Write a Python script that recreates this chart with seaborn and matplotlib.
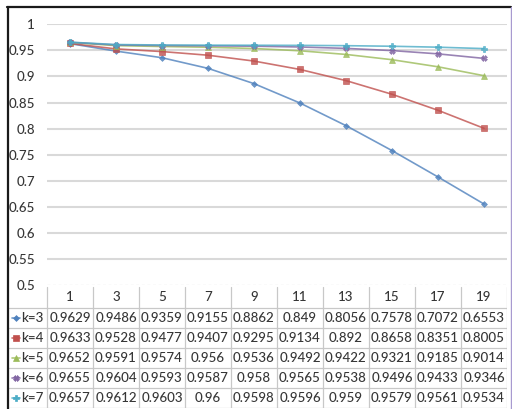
import matplotlib
matplotlib.use("Agg")
import matplotlib.pyplot as plt
from matplotlib.lines import Line2D
import numpy as np
import pandas as pd
import seaborn as sns

# Neighbourhood sizes along the x axis and accuracy per k
neighbors = [1, 3, 5, 7, 9, 11, 13, 15, 17, 19]
series_names = ["k=3", "k=4", "k=5", "k=6", "k=7"]
k3 = [0.9629, 0.9486, 0.9359, 0.9155, 0.8862, 0.849, 0.8056, 0.7578, 0.7072, 0.6553]
k4 = [0.9633, 0.9528, 0.9477, 0.9407, 0.9295, 0.9134, 0.892, 0.8658, 0.8351, 0.8005]
k5 = [0.9652, 0.9591, 0.9574, 0.956, 0.9536, 0.9492, 0.9422, 0.9321, 0.9185, 0.9014]
k6 = [0.9655, 0.9604, 0.9593, 0.9587, 0.958, 0.9565, 0.9538, 0.9496, 0.9433, 0.9346]
k7 = [0.9657, 0.9612, 0.9603, 0.96, 0.9598, 0.9596, 0.959, 0.9579, 0.9561, 0.9534]
y_ticks = [0.5, 0.55, 0.6, 0.65, 0.7, 0.75, 0.8, 0.85, 0.9, 0.95, 1.0]

all_series = [k3, k4, k5, k6, k7]
colors = ["#4F81BD", "#C0504D", "#9BBB59", "#8064A2", "#4BACC6"]
markers = ["D", "s", "^", "X", "P"]
msizes = [3, 4, 4, 4, 4]

sns.set_theme(style="white")
plt.rcParams["font.family"] = ["Lato", "DejaVu Sans"]
plt.rcParams["font.weight"] = "medium"
TXT = "#363636"
FS = 9.6

W, H = 512, 409
fig = plt.figure(figsize=(W / 100, H / 100), dpi=100)


def box(x0, y0, x1, y1):
    return [x0 / W, 1 - y1 / H, (x1 - x0) / W, (y1 - y0) / H]


# long-form frame for seaborn
df = pd.DataFrame({
    "pos": np.tile(np.arange(len(neighbors)), len(series_names)),
    "acc": np.concatenate(all_series),
    "k": np.repeat(series_names, len(neighbors)),
})

ax = fig.add_axes(box(47, 24.3, 507, 285))
ax.set_facecolor("white")
sns.lineplot(data=df, x="pos", y="acc", hue="k", style="k",
             palette=dict(zip(series_names, colors)),
             markers=dict(zip(series_names, markers)), dashes=False,
             linewidth=1.2, legend=False, ax=ax)
for line, c, ms in zip(ax.lines, colors, msizes):
    line.set_markersize(ms)
    line.set_markeredgecolor(c)
    line.set_markerfacecolor(c)
    line.set_markeredgewidth(0.5)
    line.set_alpha(0.8)

ax.set_xlim(-0.5, len(neighbors) - 0.5)
ax.set_ylim(0.5, 1.0)
ax.set_yticks(y_ticks)
ax.set_yticklabels([f"{v:g}" for v in y_ticks], color=TXT, fontsize=FS,
                   fontweight="medium")
ax.tick_params(axis="y", length=0, pad=8.6)
ax.set_xticks([])
ax.set_xlabel("")
ax.set_ylabel("")
for s in ax.spines.values():
    s.set_visible(False)
for v in y_ticks[1:]:
    ax.axhline(v, color="#d9d9d9", lw=1.5, zorder=0)
ax.axhline(0.5, color="#e6e6e6", lw=1.0, ls=(0, (2, 2)), zorder=0)

# data table under the plot, in pixel coordinates
tab = fig.add_axes(box(8, 285, 507, 408))
tab.set_xlim(8, 507)
tab.set_ylim(408, 285)
tab.axis("off")
col_w = 46.0
x0 = 47.0
head_bot = 308.0
row_h = 20.0
grid_c = "#c8c8c8"

for i in range(len(neighbors) + 1):
    tab.plot([x0 + i * col_w] * 2, [287, 408], color=grid_c, lw=0.9)
for r in range(len(series_names) + 1):
    y = head_bot + r * row_h
    tab.plot([8, 507], [y, y], color=grid_c, lw=0.9)

for i, n in enumerate(neighbors):
    tab.text(x0 + (i + 0.5) * col_w, (285 + head_bot) / 2 + 1, str(n),
             ha="center", va="center", color=TXT, fontsize=FS, fontweight="medium")

for r, (name, vals, c, m, ms) in enumerate(zip(series_names, all_series, colors, markers, msizes)):
    yc = head_bot + (r + 0.5) * row_h
    tab.add_line(Line2D([11.5, 20.5], [yc, yc], color=c, lw=1.2, alpha=0.8))
    tab.add_line(Line2D([16], [yc], marker=m, markersize=ms, color=c,
                        markeredgecolor=c, markeredgewidth=0.5, ls="none"))
    tab.text(21, yc, name, ha="left", va="center", color=TXT, fontsize=FS,
             fontweight="medium")
    for i, v in enumerate(vals):
        tab.text(x0 + (i + 0.5) * col_w, yc, f"{v:g}", ha="center", va="center",
                 color=TXT, fontsize=FS, fontweight="medium")

# outer frame of the chart object
frame = fig.add_axes([0, 0, 1, 1], zorder=10)
frame.set_xlim(0, W)
frame.set_ylim(H, 0)
frame.axis("off")
frame.patch.set_alpha(0)
frame.plot([7.5, 7.5], [6.5, H], color="#1a1a1a", lw=1.6)
frame.plot([6.7, 511], [6.8, 6.8], color="#1a1a1a", lw=1.6)
frame.plot([510.5, 510.5], [7, H], color="#a89ad0", lw=1.0)

fig.savefig("out.png", dpi=100, facecolor="white")
